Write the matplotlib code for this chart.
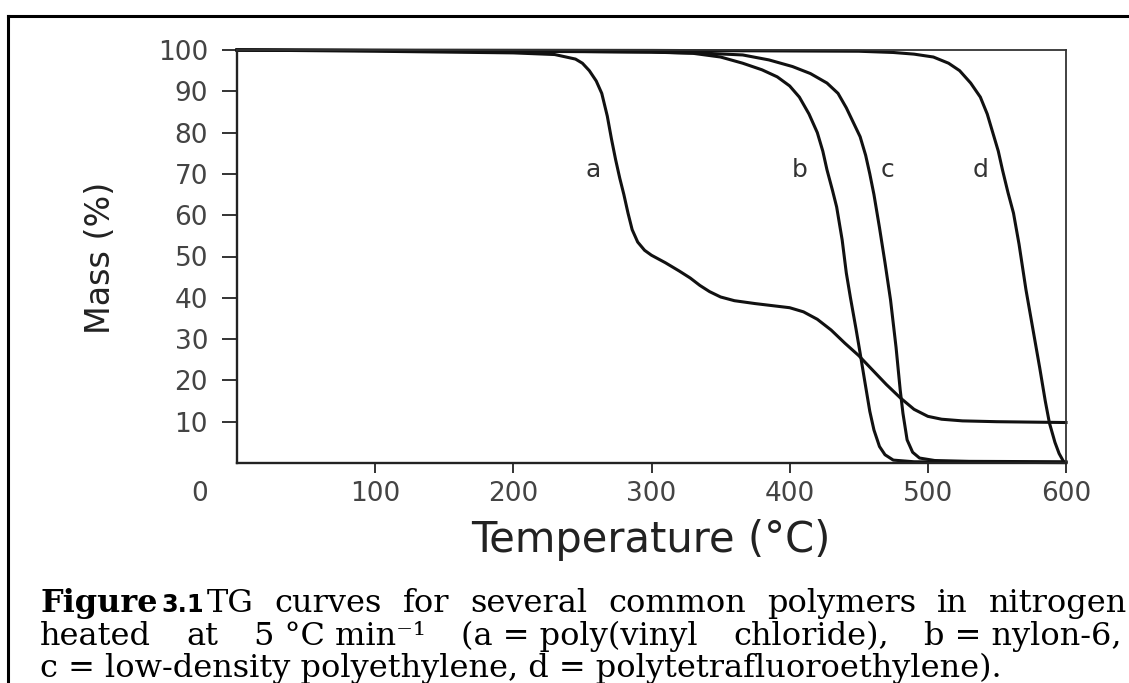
import matplotlib
matplotlib.use("Agg")
import matplotlib.pyplot as plt
from matplotlib.lines import Line2D
from matplotlib.transforms import ScaledTranslation

plt.rcParams['font.family'] = ['DejaVu Sans']

# ---------------- data ----------------
temp_a = [0, 100, 200, 230, 245, 250, 255, 260, 264, 268, 271, 274, 277, 280, 283, 286, 290, 295, 300,
          310, 320, 328, 335, 342, 350, 360, 375, 390, 400, 410, 420, 430, 440, 450,
          460, 470, 480, 490, 500, 510, 525, 550, 575, 600]
mass_a = [100, 99.7, 99.3, 98.9, 97.8, 96.8, 95, 92.5, 89.5, 84, 78.5, 73.5, 69, 65, 60.5, 56.5, 53.5, 51.5, 50.3,
          48.5, 46.5, 44.8, 43, 41.5, 40.2, 39.3, 38.6, 38.0, 37.6, 36.6, 34.8, 32.2, 29, 26,
          22.5, 19, 15.8, 13, 11.3, 10.6, 10.2, 10.0, 9.9, 9.8]

temp_b = [0, 150, 300, 330, 350, 366, 380, 391, 400, 407, 414, 420, 424, 427, 431, 434,
          438, 441, 444, 448, 451, 454, 458, 461, 465, 469, 475, 490, 520, 600]
mass_b = [100, 99.8, 99.5, 99.2, 98.3, 96.8, 95.2, 93.5, 91.3, 88.6, 84.5, 80, 75.5, 71, 66, 62,
          54, 46, 40, 32.5, 26.6, 20.5, 12.5, 8, 4, 2, 0.7, 0.3, 0.2, 0.1]

temp_c = [0, 200, 300, 340, 366, 385, 402, 415, 427, 435, 441, 446, 451, 455, 458, 461,
          465, 469, 473, 477, 480, 482, 485, 489, 494, 505, 530, 600]
mass_c = [100, 99.8, 99.5, 99.2, 98.8, 97.6, 96, 94.3, 92, 89.5, 86, 82.5, 79, 74.5, 70, 65,
          57, 48.5, 39.5, 28, 17.7, 12, 5.6, 2.6, 1.2, 0.6, 0.4, 0.3]

temp_d = [0, 300, 450, 475, 490, 504, 515, 523, 531, 538, 543, 547, 551, 554, 558, 562,
          566, 571, 576, 581, 585, 588, 592, 595, 598]
mass_d = [100, 99.9, 99.7, 99.4, 99, 98.3, 96.8, 95, 92, 88.6, 84.5, 80, 75.5, 71, 65.5, 60.5,
          53, 42, 32.5, 23, 15, 9.7, 5, 2.3, 0.5]

curve_names = ['a', 'b', 'c', 'd']
name_temps = [258, 407, 471, 538]
name_mass = [71, 71, 71, 71]

x_ticks = [0, 100, 200, 300, 400, 500, 600]
y_ticks = [10, 20, 30, 40, 50, 60, 70, 80, 90, 100]
x_label = 'Temperature (°C)'
y_label = 'Mass (%)'

caption_line1 = ['TG', 'curves', 'for', 'several', 'common', 'polymers', 'in', 'nitrogen']
caption_line2 = ['heated', 'at', '5 °C min⁻¹', '(a = poly(vinyl', 'chloride),', 'b = nylon-6,']
caption_line3 = 'c = low-density polyethylene, d = polytetrafluoroethylene).'

# ---------------- figure ----------------
W, H = 1129, 683
fig = plt.figure(figsize=(W / 100, H / 100), dpi=100, facecolor='white')
ax = fig.add_axes([237 / W, 1 - 463 / H, (1066 - 237) / W, (463 - 50) / H])

for T, M in [(temp_a, mass_a), (temp_b, mass_b), (temp_c, mass_c), (temp_d, mass_d)]:
    ax.plot(T, M, color='#111111', lw=2.2, clip_on=False, solid_joinstyle='round')

for n, t, m in zip(curve_names, name_temps, name_mass):
    ax.text(t, m, n, ha='center', va='center', fontsize=18, color='#333333')

ax.set_xlim(0, 600)
ax.set_ylim(0, 100)
ax.set_xticks(x_ticks)
ax.set_yticks(y_ticks)

for side in ['left', 'bottom']:
    ax.spines[side].set_linewidth(1.7)
    ax.spines[side].set_color('#222222')
for side in ['top', 'right']:
    ax.spines[side].set_linewidth(1.3)
    ax.spines[side].set_color('#333333')

ax.tick_params(axis='y', direction='out', length=10.8, width=1.4, pad=10,
               labelsize=19, color='#333333', labelcolor='#444444')
ax.tick_params(axis='x', direction='out', length=7, width=1.4, pad=6,
               labelsize=19, color='#333333', labelcolor='#444444')

# the "0" at the corner sits left of the axis, with no tick mark
ax.xaxis.get_major_ticks()[0].tick1line.set_visible(False)
lbl0 = ax.get_xticklabels()[0]
lbl0.set_transform(lbl0.get_transform() + ScaledTranslation(-0.37, 0, fig.dpi_scale_trans))

fig.text(100 / W, 1 - 258 / H, y_label, rotation=90, ha='center', va='center',
         fontsize=24, color='#222222')
fig.text(651 / W, 1 - 552 / H, x_label, ha='center', va='baseline',
         fontsize=30, color='#222222')

# page border (top and left)
fig.add_artist(Line2D([8 / W, 1.0], [1 - 16 / H, 1 - 16 / H], transform=fig.transFigure,
                      color='black', lw=2.2))
fig.add_artist(Line2D([8 / W, 8 / W], [0, 1 - 16 / H], transform=fig.transFigure,
                      color='black', lw=2.2))

# ---------------- caption ----------------
renderer = fig.canvas.get_renderer()

probe = fig.text(0, 0, caption_line3, family='DejaVu Serif', fontsize=20)
cap_size = 20 * 1035 / probe.get_window_extent(renderer).width
probe.remove()
cap_size = min(cap_size, 23)

serif = dict(family='DejaVu Serif', fontsize=cap_size, color='black')


def set_line(items, y_px, x_left, x_right=None, space=7):
    arts = [fig.text(0, 1 - y_px / H, s, ha='left', va='baseline', **kw) for s, kw, g in items]
    widths = [a.get_window_extent(renderer).width for a in arts]
    fixed = sum(g for (_, _, g) in items[1:] if g >= 0)
    n_str = sum(1 for (_, _, g) in items[1:] if g < 0)
    if x_right is not None and n_str:
        space = (x_right - x_left - sum(widths) - fixed) / n_str
    x = x_left
    for i, (a, w) in enumerate(zip(arts, widths)):
        if i > 0:
            g = items[i][2]
            x += g if g >= 0 else space
        a.set_x(x / W)
        x += w


line1 = [('Figure', dict(family='DejaVu Serif', fontsize=cap_size, weight='bold', color='black'), 0),
         ('3.1', dict(family='DejaVu Sans', fontsize=cap_size * 0.75, weight='bold', color='black'), 4),
         (caption_line1[0], serif, 3)]
line1 += [(w, serif, -1) for w in caption_line1[1:]]
set_line(line1, 612, 40, 1127)

line2 = [(caption_line2[0], serif, 0)] + [(w, serif, -1) for w in caption_line2[1:]]
set_line(line2, 645, 40, 1122)

set_line([(caption_line3, serif, 0)], 677, 40)

fig.savefig('out.png', dpi=100, facecolor='white')
